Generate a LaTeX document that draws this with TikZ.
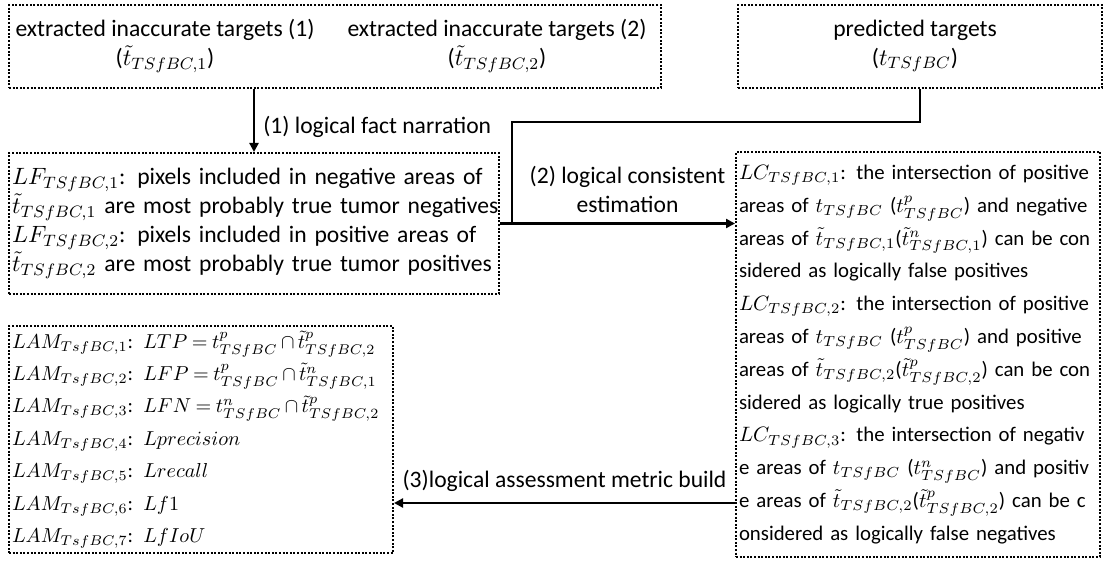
\RequirePackage{fix-cm}
\documentclass[tikz,border=0pt]{standalone}
\usepackage{fontspec}
\setmainfont{Carlito}
\usetikzlibrary{arrows.meta, calc, positioning}
\tikzset{
    dbox/.style={draw, line width=1pt, dash pattern=on 1pt off 0.8pt,
                 inner sep=1pt, anchor=north west},
    txtbox/.style={dbox, align=left, inner xsep=1.5pt},
    link/.style={-{Triangle[length=4.5pt, width=4.5pt]}, line width=1.3pt},
    wire/.style={line width=1.3pt},
    lbl/.style={inner sep=1pt, align=center},
}
\newcommand{\fl}[1]{\makebox[\linewidth][s]{#1}}
\newcommand{\lastl}[1]{\makebox[\linewidth][l]{#1}}

\begin{document}
\begin{tikzpicture}[x=0.5pt, y=-0.5pt, font=\fontsize{11.8}{14.5}\selectfont]
\useasboundingbox (0,0) rectangle (1103,561);

\node[dbox, minimum width=326pt, minimum height=41.5pt] (src) at (8,4) {};
\node[dbox, minimum width=182pt, minimum height=41.5pt] (pred) at (737,4) {};
\node[lbl] (tgt1) at (165,46) {extracted inaccurate targets (1)\\($\tilde{t}_{TSfBC,1}$)};
\node[lbl] (tgt2) at (497,46) {extracted inaccurate targets (2)\\($\tilde{t}_{TSfBC,2}$)};
\node[lbl] (ptgt) at (915,46) {predicted targets\\($t_{TSfBC}$)};

\node[txtbox, text width=242pt, minimum height=70.5pt] (fact) at (8,152) {%
\fl{$LF_{TSfBC,1}$: pixels included in negative areas of}\\
\lastl{$\tilde{t}_{TSfBC,1}$ are most probably true tumor negatives}\\
\fl{$LF_{TSfBC,2}$: pixels included in positive areas of}\\
\lastl{$\tilde{t}_{TSfBC,2}$ are most probably true tumor positives}};

\node[txtbox, text width=179pt, minimum height=202.5pt,
      font=\fontsize{10.4}{16.4}\selectfont] (cons) at (735,151) {%
\fl{$LC_{TSfBC,1}$: the intersection of positive}\\
\fl{areas of $t_{TSfBC}$ ($t^{p}_{TSfBC}$) and negative}\\
\fl{areas of $\tilde{t}_{TSfBC,1}$($\tilde{t}^{n}_{TSfBC,1}$) can be con}\\
\lastl{sidered as logically false positives}\\
\fl{$LC_{TSfBC,2}$: the intersection of positive}\\
\fl{areas of $t_{TSfBC}$ ($t^{p}_{TSfBC}$) and positive}\\
\fl{areas of $\tilde{t}_{TSfBC,2}$($\tilde{t}^{p}_{TSfBC,2}$) can be con}\\
\lastl{sidered as logically true positives}\\
\fl{$LC_{TSfBC,3}$: the intersection of negativ}\\
\fl{e areas of $t_{TSfBC}$ ($t^{n}_{TSfBC}$) and positiv}\\
\fl{e areas of $\tilde{t}_{TSfBC,2}$($\tilde{t}^{p}_{TSfBC,2}$) can be c}\\
\lastl{onsidered as logically false negatives}};

\node[txtbox, text width=189pt, minimum height=113.5pt,
      font=\fontsize{10.1}{16.2}\selectfont] (metric) at (8,325) {%
\thickmuskip=4mu\relax\medmuskip=3mu\relax
\lastl{$LAM_{TsfBC,1}$: $LTP=t^{p}_{TSfBC}\cap\tilde{t}^{p}_{TSfBC,2}$}\\
\lastl{$LAM_{TsfBC,2}$: $LFP=t^{p}_{TSfBC}\cap\tilde{t}^{n}_{TSfBC,1}$}\\
\lastl{$LAM_{TsfBC,3}$: $LFN=t^{n}_{TSfBC}\cap\tilde{t}^{p}_{TSfBC,2}$}\\
\lastl{$LAM_{TsfBC,4}$: $Lprecision$}\\
\lastl{$LAM_{TsfBC,5}$: $Lrecall$}\\
\lastl{$LAM_{TsfBC,6}$: $Lf1$}\\
\lastl{$LAM_{TsfBC,7}$: $LfIoU$}};

\coordinate (jn) at (512,122);
\coordinate (lvl3) at (560,503);

\draw[link] (src.south -| fact.north) -- node[lbl, right, pos=0.6, xshift=3pt] {(1) logical fact narration} (fact.north);
\draw[wire] (pred.south) |- (jn) -- (jn |- fact.east);
\draw[link] (fact.east) -- node[lbl, above=4pt, xshift=5pt] {(2) logical consistent\\estimation} (fact.east -| cons.west);
\draw[link] (lvl3 -| cons.west) -- node[lbl, above=4pt] {(3)logical assessment metric build} (lvl3 -| metric.east);

\end{tikzpicture}
\end{document}
